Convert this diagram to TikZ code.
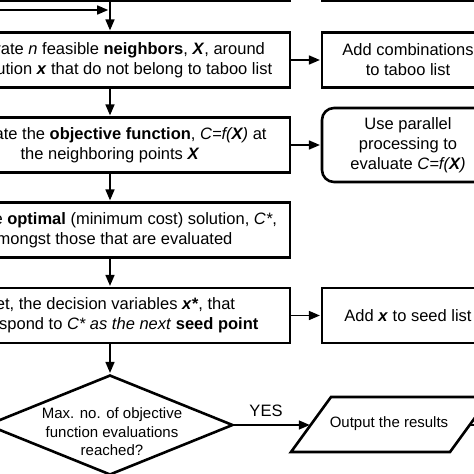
\documentclass[tikz,border=0pt]{standalone}
\usepackage{fontspec}
\setmainfont{Liberation Sans}
\usetikzlibrary{arrows.meta,shapes.geometric}
\begin{document}
\begin{tikzpicture}[x=1pt,y=-1pt,
  txt/.style={font=\fontsize{16.5}{20}\selectfont},
  stxt/.style={font=\fontsize{15}{18.5}\selectfont},
  box/.style={txt,draw,line width=2.6pt,minimum width=360pt,minimum height=55pt,inner sep=0pt,align=center},
  rbox/.style={box,minimum width=172pt},
  arr/.style={line width=1.6pt,-{Triangle[length=11pt,width=9pt]},shorten >=0.8pt},
  plain/.style={line width=1.6pt},
]
\useasboundingbox (0,0) rectangle (474,474);
\clip (0,0) rectangle (474,474);

% partially visible boxes above
\node[box] (b0) at (110,-27) {};
\node[rbox] (r0) at (408,-27) {};

% main column
\node[box] (b1) at (110,60) {Generate \textit{n} feasible \textbf{neighbors}, \textbf{\textit{X}}, around\\the solution \textbf{\textit{x}} that do not belong to taboo list};
\node[box] (b2) at (110,145) {Evaluate the \textbf{objective function}, \textit{C=f(\textbf{X})} at\\the neighboring points \textbf{\textit{X}}};
\node[box] (b3) at (110,230) {Find the \textbf{optimal} (minimum cost) solution, \textit{C*},\\amongst those that are evaluated};
\node[box] (b4) at (110,315.5) {Set, the decision variables \textbf{\textit{x*}}, that\\correspond to \textit{C* as the next} \textbf{seed point}};

% right column
\node[rbox] (r1) at (408,60) {Add combinations\\to taboo list};
\node[rbox,rounded corners=12pt,minimum height=74pt] (r2) at (408,145) {Use parallel\\processing to\\evaluate \textit{C=f(\textbf{X})}};
\node[rbox] (r4) at (408,315.5) {Add \textbf{\textit{x}} to seed list};

% decision
\node[draw,diamond,line width=2.6pt,minimum width=246pt,minimum height=100pt,inner sep=0pt] (dec) at (110,425) {};
\node[stxt,align=center] (dtext) at (112,432) {Max. no. of objective\\function evaluations\\reached?};

% output parallelogram
\coordinate (pbl) at (291,452);
\coordinate (pbr) at (450,452);
\coordinate (ptr) at (490,397);
\coordinate (ptl) at (331,397);
\draw[line width=2.6pt,line join=miter] (pbl) -- (pbr) -- (ptr) -- (ptl) -- cycle;
\node[stxt] (out) at (389,424) {Output the results};
\coordinate (pin) at (310.6,425);
\coordinate (pout) at (469.6,425);
\coordinate (pend) at (485,425);

% loop-back and top connectors
\coordinate (loopin) at (-5,10);
\coordinate (join) at (109,10);
\draw[arr] (b0.south) -- (b1.north);
\draw[arr] (loopin) -- (join);

% vertical connectors
\draw[arr] (b1.south) -- (b2.north);
\draw[arr] (b2.south) -- (b3.north);
\draw[arr] (b3.south) -- (b4.north);
\draw[arr] (b4.south) -- (dec.north);

% horizontal connectors
\draw[arr] (b1.east) -- (r1.west);
\draw[arr] (b2.east) -- (r2.west);
\draw[arr] (b4.east) -- (r4.west);
\draw[arr] (dec.east) -- (pin);
\node[txt] (yes) at (266,411) {YES};
\draw[plain] (pout) -- (pend);
\end{tikzpicture}
\end{document}
